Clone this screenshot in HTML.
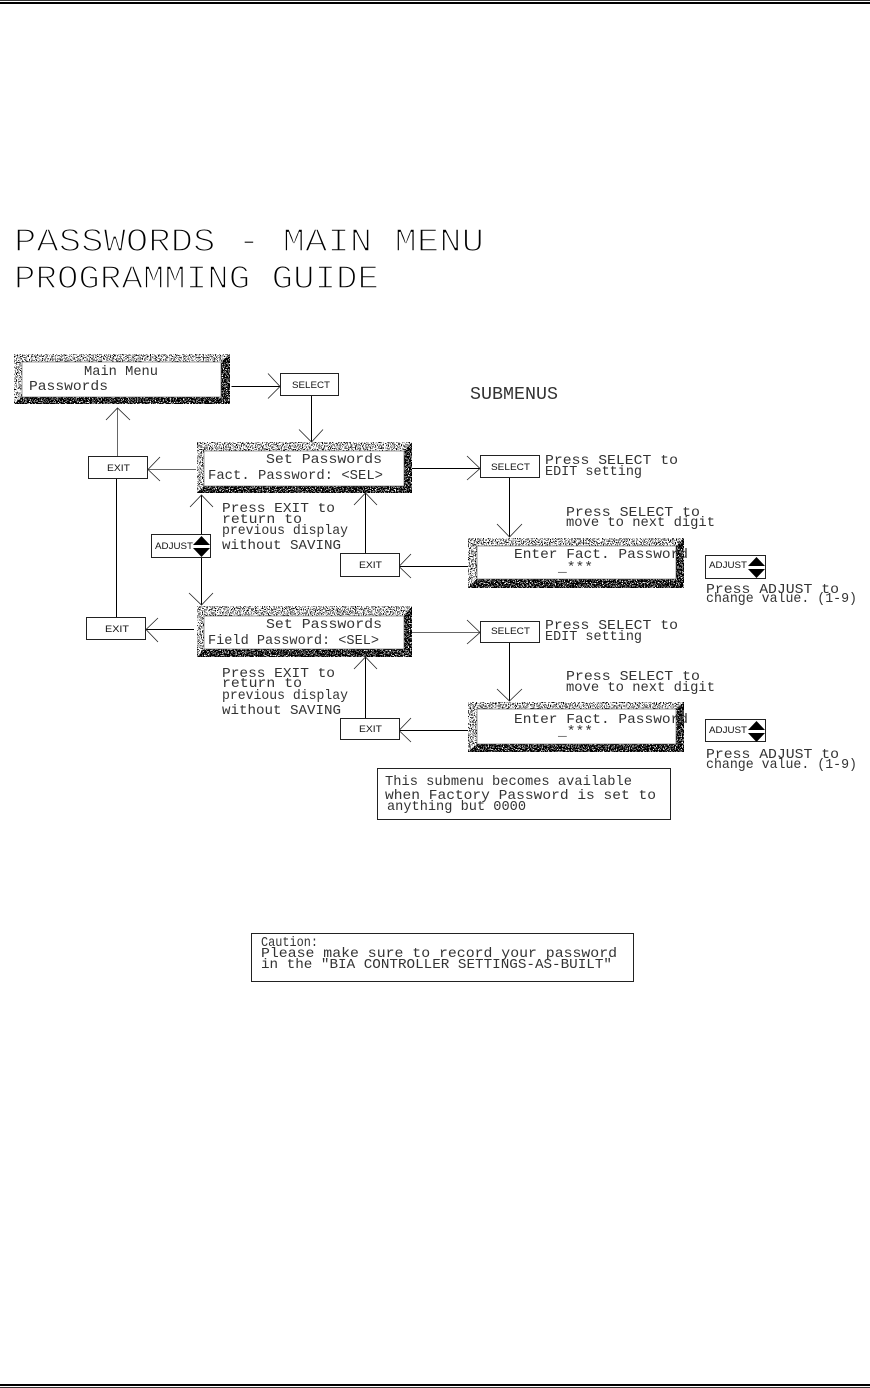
<!DOCTYPE html>
<html><head><meta charset="utf-8"><style>
html,body{margin:0;padding:0;background:#fff}
svg{display:block}
text{font-family:"Liberation Mono","DejaVu Sans Mono",monospace;fill:#333;font-size:14px}
.b{font-family:"Liberation Sans",sans-serif;font-size:9px;fill:#111}
.big{font-size:33px;fill:#000;stroke:#fff;stroke-width:1.5px}
.l{stroke:#000;stroke-width:1;fill:none;shape-rendering:crispEdges}
.g{stroke:#666;stroke-width:1;fill:none;shape-rendering:crispEdges}
.h{stroke:#222;stroke-width:.8;fill:none}
.bx{fill:#fff;stroke:#222;stroke-width:1;shape-rendering:crispEdges}
</style></head><body>
<svg width="870" height="1388" viewBox="0 0 870 1388" xmlns="http://www.w3.org/2000/svg">
<defs>
<filter id="lt" x="0" y="0" width="100%" height="100%" color-interpolation-filters="sRGB"><feTurbulence type="fractalNoise" baseFrequency=".85" numOctaves="2" seed="3"/><feColorMatrix values="0 0 0 0 0 0 0 0 0 0 0 0 0 0 0 14 0 0 0 -7.4"/></filter>
<filter id="dk" x="0" y="0" width="100%" height="100%" color-interpolation-filters="sRGB"><feTurbulence type="fractalNoise" baseFrequency=".85" numOctaves="2" seed="8"/><feColorMatrix values="0 0 0 0 0 0 0 0 0 0 0 0 0 0 0 14 0 0 0 -5.2"/></filter>
</defs>
<rect width="870" height="1388" fill="#fff"/>
<rect x="0" y="0" width="870" height="1" fill="#333"/><rect x="0" y="2" width="870" height="2" fill="#000"/>
<rect x="0" y="1384" width="870" height="2" fill="#000"/><rect x="0" y="1387" width="870" height="1" fill="#333"/>

<text class="big" x="14" y="251" textLength="470" lengthAdjust="spacingAndGlyphs">PASSWORDS - MAIN MENU</text>
<text class="big" x="14" y="288" textLength="365" lengthAdjust="spacingAndGlyphs">PROGRAMMING GUIDE</text>

<!-- panels -->
<g><rect x="14" y="354" width="216" height="50" fill="#000" filter="url(#dk)"/><polygon points="14,354 230,354 221,362 22,362 22,397 14,404" fill="#fff"/><rect x="14" y="354" width="216" height="8" filter="url(#lt)"/><rect x="14" y="354" width="8" height="50" filter="url(#lt)"/><rect x="22" y="362" width="199" height="35" fill="#fff" stroke="#555" stroke-width=".6"/></g>
<g><rect x="197" y="442" width="215" height="51" fill="#000" filter="url(#dk)"/><polygon points="197,442 412,442 404,451 204,451 204,486 197,493" fill="#fff"/><rect x="197" y="442" width="215" height="9" filter="url(#lt)"/><rect x="197" y="442" width="7" height="51" filter="url(#lt)"/><rect x="204" y="451" width="200" height="35" fill="#fff" stroke="#555" stroke-width=".6"/></g>
<g><rect x="197" y="606" width="215" height="51" fill="#000" filter="url(#dk)"/><polygon points="197,606 412,606 404,616 204,616 204,649 197,657" fill="#fff"/><rect x="197" y="606" width="215" height="10" filter="url(#lt)"/><rect x="197" y="606" width="7" height="51" filter="url(#lt)"/><rect x="204" y="616" width="200" height="33" fill="#fff" stroke="#555" stroke-width=".6"/></g>
<g><rect x="468" y="538" width="216" height="50" fill="#000" filter="url(#dk)"/><polygon points="468,538 684,538 676,546 477,546 477,579 468,588" fill="#fff"/><rect x="468" y="538" width="216" height="8" filter="url(#lt)"/><rect x="468" y="538" width="9" height="50" filter="url(#lt)"/><rect x="477" y="546" width="199" height="33" fill="#fff" stroke="#555" stroke-width=".6"/></g>
<g><rect x="468" y="702" width="216" height="50" fill="#000" filter="url(#dk)"/><polygon points="468,702 684,702 676,709 477,709 477,744 468,752" fill="#fff"/><rect x="468" y="702" width="216" height="7" filter="url(#lt)"/><rect x="468" y="702" width="9" height="50" filter="url(#lt)"/><rect x="477" y="709" width="199" height="35" fill="#fff" stroke="#555" stroke-width=".6"/></g>

<!-- connectors -->
<path class="l" d="M231.500 386.500H280M311.500 395V442M116.500 478V617M201.500 495V534M201.500 557V605M365.500 493V553M399 566.500H468M412 468.500H480M509.500 477V537M146 629.500H194M509.500 642V701M365.500 657V718M399 730.500H468"/>
<path class="g" d="M117.500 408V456M148 469.500H196M412 632.500H480"/>
<path class="h" d="M268 373.500L280 386.500L268 398.500M299 429.500L311.500 442L323 429.500M106 420L117.500 408L130 420M160 457L148 469.500L160 481M190 507L201.500 495L213 507M189 593L201.500 605L213 593M354 505L365.500 493L377 505M411 554L399 566.500L411 578M467 456L480 468.500L467 480M497 524L509.500 537L522 524M158 618L146 629.500L158 642M467 620L480 632.500L467 644M497 689L509.500 701L522 689M354 669L365.500 657L377 669M411 718L399 730.500L411 742"/>

<!-- boxes -->
<rect class="bx" x="280.500" y="373.500" width="58" height="22"/>
<rect class="bx" x="88.500" y="456.500" width="59" height="22"/>
<rect class="bx" x="151.500" y="534.500" width="59" height="23"/>
<rect class="bx" x="340.500" y="553.500" width="59" height="23"/>
<rect class="bx" x="480.500" y="455.500" width="59" height="22"/>
<rect class="bx" x="705.500" y="555.500" width="60" height="23"/>
<rect class="bx" x="86.500" y="617.500" width="59" height="22"/>
<rect class="bx" x="340.500" y="718.500" width="59" height="21"/>
<rect class="bx" x="480.500" y="621.500" width="59" height="21"/>
<rect class="bx" x="705.500" y="719.500" width="60" height="22"/>
<rect class="bx" x="377.500" y="768.500" width="293" height="51"/>
<rect class="bx" x="251.500" y="933.500" width="382" height="48"/>

<!-- adjust arrows -->
<path d="M193 545L201.500 536L210 545ZM193 548L210 548L201.500 557Z" fill="#000"/>
<path d="M748 566L756.500 557L765 566ZM748 569L765 569L756.500 578Z" fill="#000"/>
<path d="M748 730L756.500 721L765 730ZM748 733L765 733L756.500 742Z" fill="#000"/>

<!-- box labels -->
<text class="b" x="292" y="388" textLength="38" lengthAdjust="spacingAndGlyphs">SELECT</text>
<text class="b" x="107" y="471" textLength="23" lengthAdjust="spacingAndGlyphs">EXIT</text>
<text class="b" x="155" y="549" textLength="38" lengthAdjust="spacingAndGlyphs">ADJUST</text>
<text class="b" x="359" y="568" textLength="23" lengthAdjust="spacingAndGlyphs">EXIT</text>
<text class="b" x="491" y="470" textLength="39" lengthAdjust="spacingAndGlyphs">SELECT</text>
<text class="b" x="709" y="568" textLength="38" lengthAdjust="spacingAndGlyphs">ADJUST</text>
<text class="b" x="105" y="632" textLength="24" lengthAdjust="spacingAndGlyphs">EXIT</text>
<text class="b" x="359" y="732" textLength="23" lengthAdjust="spacingAndGlyphs">EXIT</text>
<text class="b" x="491" y="634" textLength="39" lengthAdjust="spacingAndGlyphs">SELECT</text>
<text class="b" x="709" y="733" textLength="38" lengthAdjust="spacingAndGlyphs">ADJUST</text>

<!-- panel text -->
<g lengthAdjust="spacingAndGlyphs">
<text lengthAdjust="spacingAndGlyphs" x="84" y="375" textLength="74">Main Menu</text>
<text lengthAdjust="spacingAndGlyphs" x="29" y="390" textLength="79">Passwords</text>
<text lengthAdjust="spacingAndGlyphs" x="266" y="463" textLength="116">Set Passwords</text>
<text lengthAdjust="spacingAndGlyphs" x="208" y="479" textLength="175">Fact. Password: &lt;SEL&gt;</text>
<text lengthAdjust="spacingAndGlyphs" x="266" y="628" textLength="116">Set Passwords</text>
<text lengthAdjust="spacingAndGlyphs" x="208" y="644" textLength="171">Field Password: &lt;SEL&gt;</text>
<text lengthAdjust="spacingAndGlyphs" x="514" y="558" textLength="174">Enter Fact. Password</text>
<text lengthAdjust="spacingAndGlyphs" x="558" y="571" textLength="35">_***</text>
<text lengthAdjust="spacingAndGlyphs" x="514" y="723" textLength="174">Enter Fact. Password</text>
<text lengthAdjust="spacingAndGlyphs" x="558" y="735" textLength="35">_***</text>
<text lengthAdjust="spacingAndGlyphs" x="222" y="512" textLength="113">Press EXIT to</text>
<text lengthAdjust="spacingAndGlyphs" x="222" y="523" textLength="80">return to</text>
<text lengthAdjust="spacingAndGlyphs" x="222" y="534" textLength="126">previous display</text>
<text lengthAdjust="spacingAndGlyphs" x="222" y="549" textLength="119">without SAVING</text>
<text lengthAdjust="spacingAndGlyphs" x="222" y="677" textLength="113">Press EXIT to</text>
<text lengthAdjust="spacingAndGlyphs" x="222" y="687" textLength="80">return to</text>
<text lengthAdjust="spacingAndGlyphs" x="222" y="699" textLength="126">previous display</text>
<text lengthAdjust="spacingAndGlyphs" x="222" y="714" textLength="119">without SAVING</text>
<text lengthAdjust="spacingAndGlyphs" x="470" y="399" textLength="88" style="font-size:18px">SUBMENUS</text>
<text lengthAdjust="spacingAndGlyphs" x="545" y="464" textLength="133">Press SELECT to</text>
<text lengthAdjust="spacingAndGlyphs" x="545" y="475" textLength="97">EDIT setting</text>
<text lengthAdjust="spacingAndGlyphs" x="566" y="516" textLength="134">Press SELECT to</text>
<text lengthAdjust="spacingAndGlyphs" x="566" y="526" textLength="149">move to next digit</text>
<text lengthAdjust="spacingAndGlyphs" x="706" y="593" textLength="133">Press ADJUST to</text>
<text lengthAdjust="spacingAndGlyphs" x="706" y="602" textLength="151">change value. (1-9)</text>
<text lengthAdjust="spacingAndGlyphs" x="545" y="629" textLength="133">Press SELECT to</text>
<text lengthAdjust="spacingAndGlyphs" x="545" y="640" textLength="97">EDIT setting</text>
<text lengthAdjust="spacingAndGlyphs" x="566" y="680" textLength="134">Press SELECT to</text>
<text lengthAdjust="spacingAndGlyphs" x="566" y="691" textLength="149">move to next digit</text>
<text lengthAdjust="spacingAndGlyphs" x="706" y="758" textLength="133">Press ADJUST to</text>
<text lengthAdjust="spacingAndGlyphs" x="706" y="768" textLength="151">change value. (1-9)</text>
<text lengthAdjust="spacingAndGlyphs" x="385" y="785" textLength="247">This submenu becomes available</text>
<text lengthAdjust="spacingAndGlyphs" x="385" y="799" textLength="271">when Factory Password is set to</text>
<text lengthAdjust="spacingAndGlyphs" x="387" y="810" textLength="139">anything but 0000</text>
<text lengthAdjust="spacingAndGlyphs" x="261" y="946" textLength="57">Caution:</text>
<text lengthAdjust="spacingAndGlyphs" x="261" y="957" textLength="356">Please make sure to record your password</text>
<text lengthAdjust="spacingAndGlyphs" x="261" y="968" textLength="351">in the "BIA CONTROLLER SETTINGS-AS-BUILT"</text>
</g>
</svg>
</body></html>
